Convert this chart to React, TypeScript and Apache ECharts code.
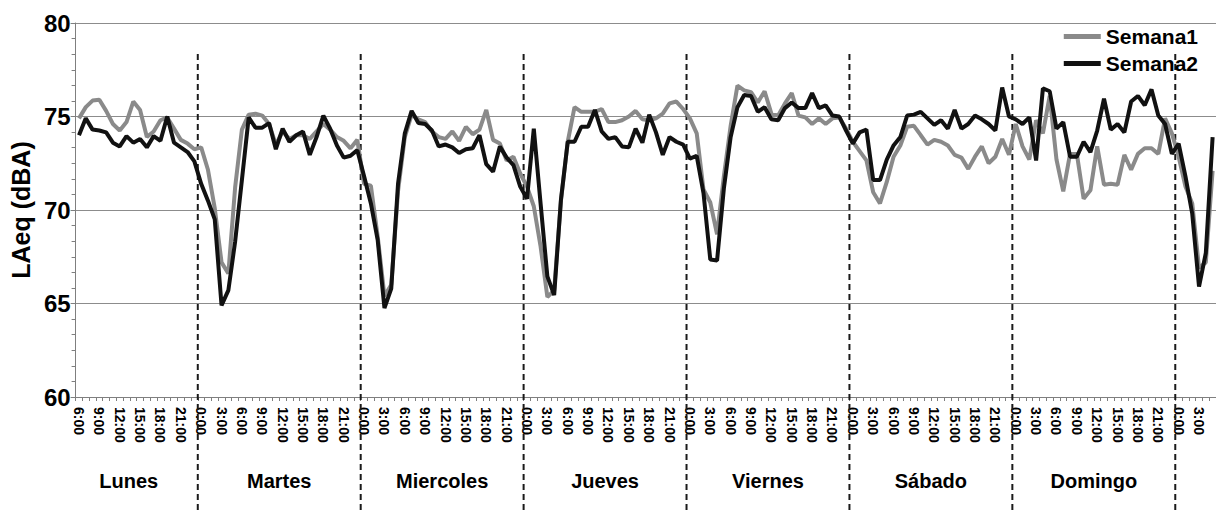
import React, { useEffect, useRef } from "react";
import * as echarts from "echarts";

// Hourly categories, Monday 6:00 through next Monday 5:00
const hourLabels: string[] = Array.from({ length: 168 }, (_, i) => `${(i + 6) % 24}:00`);

const semana1: number[] = [
  74.9, 75.5, 75.85, 75.9, 75.3, 74.6, 74.25, 74.7, 75.8, 75.35, 73.9, 74.2, 74.8, 74.95, 74.35, 73.75, 73.55, 73.25,
  73.35, 72.15, 70.1, 67.2, 66.6, 71.2, 74.3, 75.1, 75.15, 75.05, 74.6, 73.5, 74.2, 73.8, 74.0, 74.0, 73.8, 74.2, 74.6, 74.3, 73.9, 73.7, 73.3, 73.75,
  71.4, 71.3, 68.6, 65.4, 66.0, 71.0, 73.9, 75.1, 74.85, 74.7, 74.2, 73.9, 73.8, 74.2, 73.7, 74.45, 74.05, 74.3, 75.35, 73.75, 73.55, 72.65, 72.85, 71.95,
  71.25, 70.2, 68.05, 65.35, 65.7, 70.5, 73.65, 75.5, 75.25, 75.25, 75.25, 75.4, 74.7, 74.7, 74.8, 75.0, 75.3, 74.85, 74.8, 74.9, 75.15, 75.7, 75.8, 75.4,
  74.9, 74.1, 71.1, 70.4, 68.7, 71.8, 74.5, 76.65, 76.4, 76.3, 75.75, 76.35, 75.15, 75.05, 75.7, 76.25, 75.05, 74.95, 74.6, 74.9, 74.6, 74.9, 74.95, 74.35,
  73.65, 73.15, 72.65, 70.95, 70.35, 71.5, 72.85, 73.45, 74.45, 74.5, 74.0, 73.5, 73.75, 73.65, 73.45, 72.95, 72.8, 72.2, 72.85, 73.4, 72.5, 72.85, 73.8, 72.95,
  74.6, 73.4, 72.7, 74.8, 74.1, 76.1, 72.7, 71.0, 73.0, 73.0, 70.6, 71.05, 73.4, 71.35, 71.4, 71.35, 72.95, 72.15, 73.0, 73.3, 73.3, 73.0, 74.9, 74.1,
  72.85, 71.25, 70.35, 66.9, 67.2, 72.1,
];

const semana2: number[] = [
  74.0, 74.9, 74.3, 74.25, 74.15, 73.6, 73.4, 73.95, 73.6, 73.8, 73.35, 73.95, 73.7, 75.0, 73.6, 73.35, 73.1, 72.6,
  71.4, 70.5, 69.5, 64.9, 65.7, 68.3, 71.6, 74.95, 74.4, 74.4, 74.65, 73.25, 74.35, 73.65, 74.0, 74.2, 72.95, 73.9, 75.05, 74.35, 73.45, 72.8, 72.9, 73.2,
  71.8, 70.35, 68.4, 64.75, 65.8, 71.4, 74.1, 75.3, 74.65, 74.6, 74.25, 73.4, 73.5, 73.35, 73.05, 73.25, 73.3, 74.0, 72.45, 72.05, 73.4, 72.8, 72.4, 71.25,
  70.6, 74.35, 70.35, 66.45, 65.45, 70.55, 73.65, 73.65, 74.45, 74.45, 75.35, 74.2, 73.8, 73.9, 73.4, 73.35, 74.35, 73.6, 75.1, 74.15, 72.95, 73.9, 73.65, 73.5,
  72.75, 72.9, 70.9, 67.35, 67.3, 71.15, 73.9, 75.5, 76.15, 76.1, 75.25, 75.5, 74.85, 74.8, 75.45, 75.75, 75.45, 75.45, 76.25, 75.45, 75.6, 75.05, 75.0, 74.25,
  73.55, 74.15, 74.3, 71.6, 71.6, 72.7, 73.45, 73.9, 75.05, 75.1, 75.25, 74.9, 74.55, 74.8, 74.35, 75.35, 74.35, 74.6, 75.05, 74.85, 74.6, 74.25, 76.55, 75.0,
  74.85, 74.6, 74.95, 72.65, 76.5, 76.35, 74.35, 74.7, 72.85, 72.85, 73.65, 73.1, 74.25, 75.95, 74.3, 74.6, 74.15, 75.8, 76.1, 75.6, 76.45, 75.05, 74.6, 73.0,
  73.55, 71.8, 69.8, 65.9, 67.7, 73.9,
];

const dayNames: string[] = ["Lunes", "Martes", "Miercoles", "Jueves", "Viernes", "Sábado", "Domingo"];
// category index where each new day begins (0:00)
const dayStarts: number[] = [18, 42, 66, 90, 114, 138, 162];

const SANS = "'Liberation Sans', Arial, sans-serif";

export default function App() {
  const ref = useRef<HTMLDivElement>(null);

  useEffect(() => {
    const chart = echarts.init(ref.current as HTMLDivElement, null, { renderer: "svg" });
    const axisGray = "#7f7f7f";
    chart.setOption({
      animation: false,
      backgroundColor: "#ffffff",
      grid: { left: 72, right: 0, top: 23, bottom: 116, containLabel: false },
      legend: {
        orient: "vertical",
        right: 13,
        top: 20,
        icon: "rect",
        itemWidth: 37,
        itemHeight: 5,
        itemGap: 4,
        textStyle: { fontFamily: SANS, fontWeight: "bold", fontSize: 21, lineHeight: 23, color: "#000" },
        data: ["Semana1", "Semana2"],
      },
      xAxis: {
        type: "category",
        data: hourLabels,
        boundaryGap: true,
        axisLine: { show: true, lineStyle: { color: axisGray, width: 1 } },
        axisTick: { show: true, interval: 0, length: 4, lineStyle: { color: axisGray } },
        axisLabel: {
          interval: 2,
          rotate: -90,
          margin: 10,
          fontFamily: SANS,
          fontWeight: "bold",
          fontSize: 14,
          color: "#000",
        },
        splitLine: { show: false },
      },
      yAxis: {
        type: "value",
        min: 60,
        max: 80,
        interval: 5,
        name: "LAeq (dBA)",
        nameLocation: "middle",
        nameGap: 22,
        nameTextStyle: { fontFamily: SANS, fontWeight: "bold", fontSize: 25, color: "#000" },
        axisLine: { show: true, lineStyle: { color: axisGray, width: 1 } },
        axisTick: { show: true, length: 5, lineStyle: { color: axisGray } },
        minorTick: { show: true, splitNumber: 6, length: 4, lineStyle: { color: axisGray } },
        axisLabel: { fontFamily: SANS, fontWeight: "bold", fontSize: 24, color: "#000", margin: 5 },
        splitLine: { show: true, lineStyle: { color: "#8c8c8c", width: 1 } },
      },
      series: [
        {
          name: "Semana1",
          type: "line",
          data: semana1,
          showSymbol: false,
          symbol: "none",
          lineStyle: { color: "#8a8a8a", width: 4 },
          itemStyle: { color: "#8a8a8a" },
          z: 3,
        },
        {
          name: "Semana2",
          type: "line",
          data: semana2,
          showSymbol: false,
          symbol: "none",
          lineStyle: { color: "#111111", width: 4 },
          itemStyle: { color: "#111111" },
          z: 4,
        },
      ],
    });

    const px = (i: number) => chart.convertToPixel({ seriesIndex: 0 }, [i, 70])[0];
    const band = px(1) - px(0);
    const left = px(0) - band / 2;
    const right = px(hourLabels.length - 1) + band / 2;
    const bounds = dayStarts.map((i) => px(i) - band / 2);
    const edges = [left, ...bounds, right];
    const graphics: any[] = [];
    bounds.forEach((x) => {
      graphics.push({
        type: "line",
        z: 1,
        shape: { x1: x, y1: 54, x2: x, y2: 513 },
        style: { stroke: "#1a1a1a", lineWidth: 2, lineDash: [6, 4] },
      });
    });
    dayNames.forEach((name, d) => {
      const cx = d === 0 ? (edges[0] + edges[1]) / 2 - 8 : (edges[d] + edges[d + 1]) / 2;
      graphics.push({
        type: "text",
        z: 5,
        x: cx,
        y: 481,
        style: {
          text: name,
          fill: "#000",
          font: `bold 20px ${SANS}`,
          align: "center",
          verticalAlign: "middle",
        },
      });
    });
    chart.setOption({ graphic: graphics });

    return () => chart.dispose();
  }, []);

  return <div ref={ref} style={{ position: "absolute", left: 0, top: 0, width: 1216, height: 513 }} />;
}
